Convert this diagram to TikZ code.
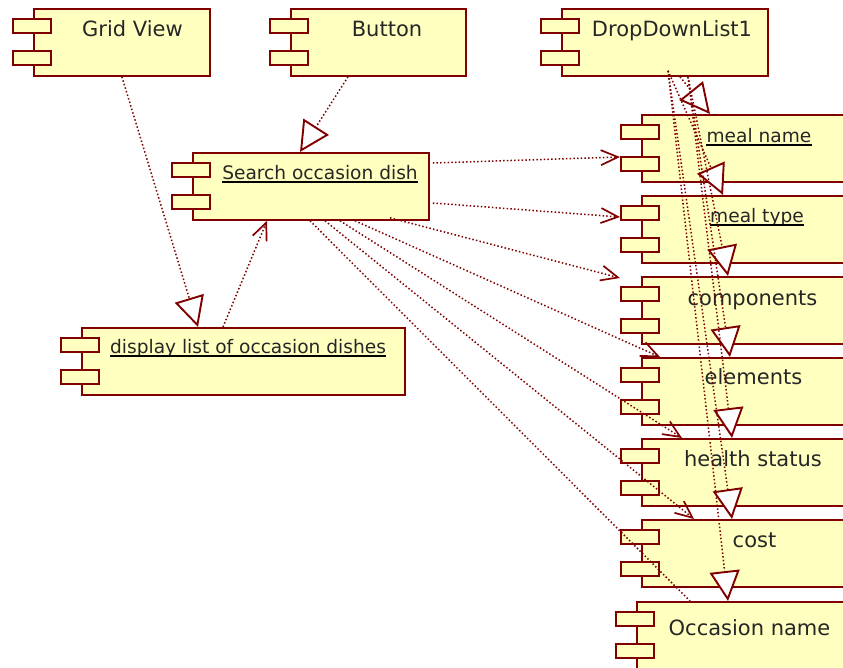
\documentclass[tikz,border=0pt]{standalone}
\usepackage{fontspec}
\setmainfont{DejaVu Sans}
\usepackage{tikz}
\usetikzlibrary{calc}
\usetikzlibrary{arrows.meta}
\definecolor{umlred}{RGB}{128,0,0}
\definecolor{umlfill}{RGB}{255,255,192}
\tikzset{
  comp/.style={draw=umlred, fill=umlfill, line width=1.8pt, inner sep=0pt, anchor=north west, minimum height=67pt},
  tab/.style={draw=umlred, fill=umlfill, line width=1.8pt},
  txt/.style={inner sep=0pt, anchor=base, text=black!85, font=\fontsize{21pt}{25pt}\selectfont},
  utxt/.style={txt, font=\fontsize{18.6pt}{22pt}\selectfont},
  uline/.style={black, line width=2pt},
  link/.style={umlred, line width=1.5pt, dash pattern=on 1.5pt off 2.2pt},
  dep/.style={link, -{Straight Barb[length=17pt,width=15pt,line width=1.7pt]}},
  real/.style={link, -{Triangle[length=30pt,width=30pt,fill=white,line width=1.9pt]}}
}

\begin{document}
\begin{tikzpicture}[x=1pt,y=-1pt]
\useasboundingbox (0,0) rectangle (843,667);
% components
\node[comp, minimum width=176pt] (gridview) at (33,8) {};
\node[comp, minimum width=175pt] (button) at (290,8) {};
\node[comp, minimum width=206pt] (dropdown) at (561,8) {};
\node[comp, minimum width=236pt] (search) at (192,152) {};
\node[comp, minimum width=323pt] (displaylist) at (81,327) {};
\node[comp, minimum width=230pt] (mealname) at (641,114) {};
\node[comp, minimum width=230pt] (mealtype) at (641,195) {};
\node[comp, minimum width=230pt] (components) at (641,276) {};
\node[comp, minimum width=230pt] (elements) at (641,357) {};
\node[comp, minimum width=230pt] (health) at (641,438) {};
\node[comp, minimum width=230pt] (cost) at (641,519) {};
\node[comp, minimum width=235pt] (occasion) at (636,601) {};
\foreach \n in {gridview,button,dropdown,search,displaylist,mealname,mealtype,components,elements,health,cost,occasion} {
  \foreach \dy in {11,43}
    \draw[tab] ($(\n.north west)+(-20,\dy)$) rectangle ++(38,14);
}
% labels
\node[txt] (gridviewtext) at (132.5,36) {Grid View};
\node[txt] (buttontext) at (387,36) {Button};
\node[txt] (dropdowntext) at (672,36) {DropDownList1};
\node[utxt] (searchtext) at (320,179) {Search occasion dish};
\node[utxt] (displaylisttext) at (248,353) {display list of occasion dishes};
\node[utxt] (mealnametext) at (759,142) {meal name};
\node[utxt] (mealtypetext) at (757,222) {meal type};
\node[txt] (componentstext) at (752.5,305) {components};
\node[txt] (elementstext) at (753.5,384) {elements};
\node[txt] (healthtext) at (753,466) {health status};
\node[txt] (costtext) at (754.5,547) {cost};
\node[txt] (occasiontext) at (749.5,635) {Occasion name};
\foreach \n in {searchtext,displaylisttext,mealnametext,mealtypetext}
  \draw[uline] ([yshift=-3pt]\n.base west) -- ([yshift=-3pt]\n.base east);
% connectors
\draw[real] (gridview.south) -- ($(displaylist.north west)+(117,0)$);
\draw[real] ($(button.south west)+(58,0)$) -- ($(search.north west)+(108,0)$);
\draw[dep] ($(displaylist.north west)+(142,0)$) -- ($(search.south west)+(75,0)$);
\draw[dep] ($(search.north east)+(3,11)$) -- ($(mealname.north west)+(-21,43)$);
\draw[dep] ($(search.north east)+(3,51)$) -- ($(mealtype.north west)+(-21,22)$);
\draw[dep] ($(search.south west)+(198,-3)$) -- ($(components.north west)+(-21,2)$);
\draw[dep] ($(search.south west)+(163,0)$) -- ($(elements.north west)+(19,0)$);
\draw[dep] ($(search.south west)+(148,0)$) -- ($(health.north west)+(41,0)$);
\draw[dep] ($(search.south west)+(133,0)$) -- ($(cost.north west)+(53,0)$);
\draw[link] ($(search.south west)+(118,0)$) -- ($(occasion.north west)+(54,0)$);
\foreach \n/\sx/\sy/\tx in {mealname/119/0/69, mealtype/107/-6/82, components/127/0/87, elements/127/0/89, health/127/0/91, cost/107/-6/91, occasion/107/-6/92}
  \draw[real] ($(dropdown.south west)+(\sx,\sy)$) -- ($(\n.north west)+(\tx,0)$);
\end{tikzpicture}
\end{document}
